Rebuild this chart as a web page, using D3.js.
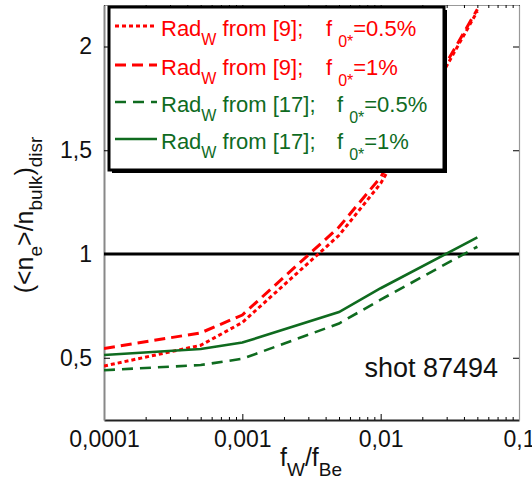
<!DOCTYPE html>
<html>
<head>
<meta charset="utf-8">
<script src="https://cdn.jsdelivr.net/npm/d3@7"></script>
<style>
  body { margin: 0; background: #fff; }
  svg { font-family: "Liberation Sans", Arial, sans-serif; }
  text { white-space: pre; }
</style>
</head>
<body>
<svg id="chart" width="532" height="486"></svg>
<script>
// data
var fRatio = [0.0001, 0.0005, 0.001, 0.005, 0.01, 0.05];
var rad9_05 = [0.46, 0.56, 0.67, 1.09, 1.34, 2.17];
var rad9_1 = [0.545, 0.62, 0.706, 1.13, 1.37, 2.18];
var rad17_05 = [0.44, 0.465, 0.495, 0.665, 0.78, 1.035];
var rad17_1 = [0.513, 0.542, 0.573, 0.72, 0.835, 1.08];

var xTicks = [0.0001, 0.001, 0.01, 0.1];
var xTickLabels = ["0,0001", "0,001", "0,01", "0,1"];
var yTicks = [0.5, 1, 1.5, 2];
var yTickLabels = ["0,5", "1", "1,5", "2"];
var refLevel = 1;

var red = "#ff0000", green = "#0f6b1f";

var series = [
  { ref: "[9]", f0: "0.5%", values: rad9_05, color: red, dash: "4,3", width: 3 },
  { ref: "[9]", f0: "1%", values: rad9_1, color: red, dash: "11,6", width: 3 },
  { ref: "[17]", f0: "0.5%", values: rad17_05, color: green, dash: "11,7", width: 2.6 },
  { ref: "[17]", f0: "1%", values: rad17_1, color: green, dash: null, width: 2.6 }
];

(function () {
var pLeft = 104, pRight = 519, pTop = 5, pBottom = 420;
var svg = d3.select("#chart");

var x = d3.scaleLog().domain([0.0001, 0.1]).range([pLeft, pRight]);
var y = d3.scaleLinear().domain([0.2, 2.2]).range([pBottom, pTop]);

// minor ticks 2..9 per decade
var minor = [];
[0.0001, 0.001, 0.01].forEach(function (d) {
  for (var k = 2; k <= 9; k++) minor.push(d * k);
});

var fmtX = function (d) { return xTickLabels[xTicks.indexOf(d)]; };
var fmtY = function (d) { return yTickLabels[yTicks.indexOf(d)]; };

// bottom axis
var gb = svg.append("g").attr("transform", "translate(0," + pBottom + ")")
  .call(d3.axisBottom(x).tickValues(xTicks).tickFormat(fmtX).tickSize(-6).tickSizeOuter(0).tickPadding(11));
gb.selectAll("text").attr("font-size", 23).attr("fill", "#111").attr("font-family", "Liberation Sans, Arial, sans-serif");
gb.select(".domain").attr("stroke", "#222").attr("stroke-width", 2);
svg.append("g").attr("transform", "translate(0," + pBottom + ")")
  .call(d3.axisBottom(x).tickValues(minor).tickFormat("").tickSize(-3).tickSizeOuter(0))
  .select(".domain").remove();

// top axis
var gt = svg.append("g").attr("transform", "translate(0," + pTop + ")")
  .call(d3.axisTop(x).tickValues(xTicks).tickFormat("").tickSize(-6).tickSizeOuter(0));
gt.select(".domain").attr("stroke", "#999").attr("stroke-width", 1.2);
svg.append("g").attr("transform", "translate(0," + pTop + ")")
  .call(d3.axisTop(x).tickValues(minor).tickFormat("").tickSize(-3).tickSizeOuter(0))
  .select(".domain").remove();

// left axis
var gl = svg.append("g").attr("transform", "translate(" + pLeft + ",0)")
  .call(d3.axisLeft(y).tickValues(yTicks).tickFormat(fmtY).tickSize(-6).tickSizeOuter(0).tickPadding(12));
gl.selectAll("text").attr("font-size", 23).attr("fill", "#111").attr("font-family", "Liberation Sans, Arial, sans-serif");
gl.select(".domain").attr("stroke", "#888").attr("stroke-width", 2);

// right axis
var gr = svg.append("g").attr("transform", "translate(" + pRight + ",0)")
  .call(d3.axisRight(y).tickValues(yTicks).tickFormat("").tickSize(-6).tickSizeOuter(0));
gr.select(".domain").attr("stroke", "#999").attr("stroke-width", 1.2);

// clip
svg.append("clipPath").attr("id", "plot")
  .append("rect").attr("x", pLeft).attr("y", pTop).attr("width", pRight - pLeft).attr("height", pBottom - pTop);

// reference line at 1
svg.append("line")
  .attr("x1", x(0.0001)).attr("x2", x(0.1))
  .attr("y1", y(refLevel)).attr("y2", y(refLevel))
  .attr("stroke", "#000").attr("stroke-width", 3);

var line = d3.line()
  .x(function (d, i) { return x(fRatio[i]); })
  .y(function (d) { return y(d); });

var plot = svg.append("g").attr("clip-path", "url(#plot)");
series.forEach(function (s) {
  plot.append("path")
    .attr("d", line(s.values))
    .attr("fill", "none")
    .attr("stroke", s.color)
    .attr("stroke-width", s.width)
    .attr("stroke-dasharray", s.dash);
});

// shot label
svg.append("text").attr("x", 498).attr("y", 377).attr("text-anchor", "end")
  .attr("font-size", 27).attr("fill", "#111").text("shot 87494");

// legend
var lg = svg.append("g");
lg.append("rect").attr("x", 112).attr("y", 10).attr("width", 335).attr("height", 163).attr("fill", "#000");
lg.append("rect").attr("x", 109).attr("y", 7).attr("width", 335).attr("height", 163)
  .attr("fill", "#fff").attr("stroke", "#000").attr("stroke-width", 3);

var rowY = [28, 67, 104, 141];
series.forEach(function (s, i) {
  var cy = rowY[i];
  lg.append("line").attr("x1", 115).attr("x2", 157).attr("y1", cy - 2).attr("y2", cy - 2)
    .attr("stroke", s.color).attr("stroke-width", s.width).attr("stroke-dasharray", s.dash);
  var t = lg.append("text").attr("x", 161).attr("y", cy + 8).attr("font-size", 22).attr("fill", s.color);
  t.append("tspan").text("Rad");
  t.append("tspan").attr("font-size", 16).attr("dy", 9).text("W");
  t.append("tspan").attr("dy", -9).text(" from " + s.ref + ";");
  var fx = s.ref === "[9]" ? 326 : 337;
  var t2 = lg.append("text").attr("x", fx).attr("y", cy + 8).attr("font-size", 22).attr("fill", s.color);
  t2.append("tspan").text("f");
  t2.append("tspan").attr("font-size", 16).attr("dx", 6).attr("dy", 11).text("0*");
  t2.append("tspan").attr("dy", -11).text("=" + s.f0);
});

// axis titles
var xt = svg.append("text").attr("x", 280).attr("y", 466).attr("font-size", 25).attr("fill", "#111");
xt.append("tspan").text("f");
xt.append("tspan").attr("font-size", 19).attr("dy", 10).text("W");
xt.append("tspan").attr("dy", -10).text("/f");
xt.append("tspan").attr("font-size", 19).attr("dy", 10).text("Be");

var yt = svg.append("text").attr("transform", "translate(33,215) rotate(-90)")
  .attr("text-anchor", "middle").attr("font-size", 25).attr("fill", "#111");
yt.append("tspan").text("(<n");
yt.append("tspan").attr("font-size", 19).attr("dy", 9).text("e");
yt.append("tspan").attr("dy", -9).text(">/n");
yt.append("tspan").attr("font-size", 19).attr("dy", 9).text("bulk");
yt.append("tspan").attr("dy", -9).text(")");
yt.append("tspan").attr("font-size", 19).attr("dy", 9).text("disr");
})();
</script>
</body>
</html>
